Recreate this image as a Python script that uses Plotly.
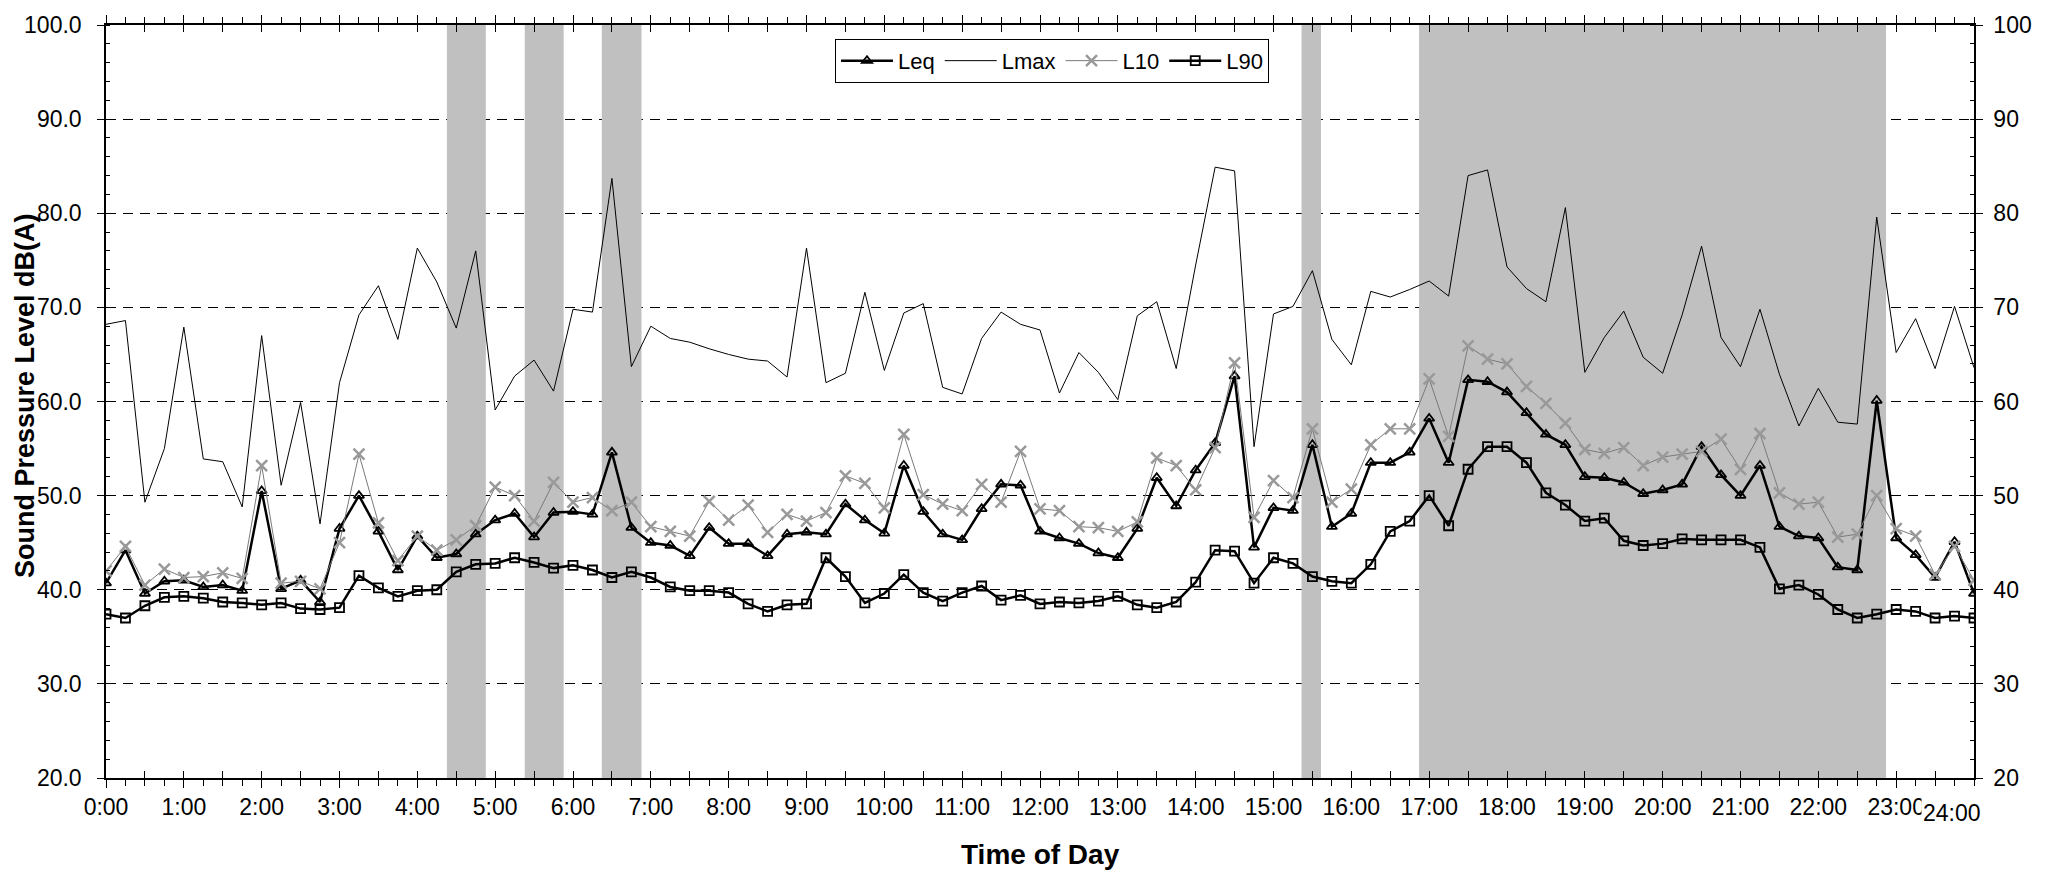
import plotly.graph_objects as go

# 15-minute categories, 0:00 .. 24:00 (97 points)
hours = [i * 0.25 for i in range(97)]
hour_labels = [f"{h}:00" for h in range(24)]

leq = [40.7, 44.2, 39.6, 40.9, 41.0, 40.3, 40.5, 39.9, 50.5, 40.1,
       41.0, 38.7, 46.5, 50.0, 46.2, 42.1, 45.7, 43.4, 43.8, 45.9,
       47.4, 48.1, 45.6, 48.2, 48.3, 48.0, 54.6, 46.6, 45.0, 44.7,
       43.6, 46.6, 44.9, 44.9, 43.6, 45.9, 46.1, 45.9, 49.1, 47.4,
       46.0, 53.2, 48.3, 45.9, 45.3, 48.6, 51.2, 51.1, 46.2, 45.5,
       44.9, 43.9, 43.4, 46.5, 51.9, 48.9, 52.7, 55.6, 62.7, 44.5,
       48.7, 48.4, 55.4, 46.7, 48.1, 53.5, 53.5, 54.6, 58.2, 53.5,
       62.3, 62.1, 61.0, 58.8, 56.5, 55.4, 52.0, 51.9, 51.4, 50.2,
       50.6, 51.2, 55.2, 52.2, 50.0, 53.2, 46.7, 45.7, 45.5, 42.4,
       42.1, 60.1, 45.5, 43.7, 41.3, 45.1, 39.6]

lmax = [68.2, 68.6, 49.3, 55.0, 67.9, 53.9, 53.6, 48.8, 67.0, 51.1,
        59.9, 47.0, 62.0, 69.2, 72.3, 66.6, 76.3, 72.7, 67.8, 76.0,
        59.1, 62.7, 64.4, 61.1, 69.8, 69.5, 83.7, 63.7, 68.0, 66.7,
        66.3, 65.6, 65.0, 64.5, 64.3, 62.6, 76.3, 62.0, 63.0, 71.6,
        63.3, 69.4, 70.4, 61.5, 60.8, 66.7, 69.5, 68.2, 67.6, 60.9,
        65.2, 63.1, 60.2, 69.1, 70.6, 63.5, 74.5, 84.9, 84.5, 55.2,
        69.3, 70.1, 73.9, 66.6, 63.9, 71.7, 71.1, 71.9, 72.8, 71.2,
        84.0, 84.6, 74.3, 72.0, 70.6, 80.6, 63.1, 66.8, 69.6, 64.7,
        63.0, 69.2, 76.5, 66.8, 63.7, 69.8, 62.9, 57.4, 61.4, 57.8,
        57.6, 79.6, 65.2, 68.8, 63.5, 70.1, 63.6]

l10 = [42.0, 44.6, 40.5, 42.2, 41.3, 41.4, 41.8, 41.2, 53.2, 40.7,
       40.9, 40.1, 45.0, 54.4, 47.1, 43.1, 45.7, 44.2, 45.3, 46.8,
       50.9, 50.0, 47.3, 51.4, 49.3, 49.8, 48.4, 49.3, 46.7, 46.2,
       45.7, 49.4, 47.4, 49.0, 46.1, 48.0, 47.3, 48.2, 52.1, 51.3,
       48.7, 56.5, 50.1, 49.1, 48.4, 51.2, 49.3, 54.7, 48.6, 48.4,
       46.7, 46.6, 46.2, 47.2, 54.0, 53.2, 50.6, 55.1, 64.1, 47.7,
       51.6, 49.8, 57.1, 49.3, 50.7, 55.4, 57.1, 57.1, 62.4, 56.3,
       65.9, 64.5, 64.0, 61.6, 59.8, 57.7, 54.9, 54.5, 55.1, 53.2,
       54.1, 54.4, 54.7, 56.0, 52.8, 56.6, 50.3, 49.1, 49.3, 45.6,
       45.9, 50.0, 46.5, 45.7, 41.6, 44.6, 41.0]

l90 = [37.4, 37.0, 38.3, 39.2, 39.3, 39.1, 38.7, 38.6, 38.4, 38.6,
       38.0, 37.9, 38.1, 41.5, 40.2, 39.3, 39.9, 40.0, 41.9, 42.7,
       42.8, 43.4, 42.9, 42.3, 42.6, 42.1, 41.3, 41.9, 41.3, 40.3,
       39.9, 39.9, 39.7, 38.5, 37.7, 38.4, 38.5, 43.4, 41.4, 38.6,
       39.6, 41.6, 39.7, 38.8, 39.7, 40.4, 38.9, 39.4, 38.5, 38.7,
       38.6, 38.8, 39.3, 38.4, 38.1, 38.7, 40.8, 44.2, 44.1, 40.7,
       43.4, 42.8, 41.4, 40.9, 40.7, 42.7, 46.2, 47.3, 50.0, 46.8,
       52.8, 55.2, 55.2, 53.5, 50.3, 49.0, 47.3, 47.6, 45.2, 44.7,
       44.9, 45.4, 45.3, 45.3, 45.3, 44.5, 40.1, 40.5, 39.5, 37.9,
       37.0, 37.4, 37.9, 37.7, 37.0, 37.2, 37.0]

# shaded periods (hours of day)
band_start = [4.38, 5.38, 6.37, 15.36, 16.87]
band_end = [4.88, 5.88, 6.88, 15.61, 22.87]

FONT = "Liberation Sans"

fig = go.Figure()

fig.add_trace(go.Scatter(
    x=hours, y=leq, name="Leq", mode="lines+markers",
    line=dict(color="black", width=2.5),
    marker=dict(symbol="triangle-up-open", size=9, color="black",
                line=dict(color="black", width=1.8))))
fig.add_trace(go.Scatter(
    x=hours, y=lmax, name="Lmax", mode="lines",
    line=dict(color="black", width=1)))
fig.add_trace(go.Scatter(
    x=hours, y=l10, name="L10", mode="lines+markers",
    line=dict(color="#7a7a7a", width=1),
    marker=dict(symbol="x-thin-open", size=11, color="#999999",
                line=dict(color="#999999", width=2.5))))
fig.add_trace(go.Scatter(
    x=hours, y=l90, name="L90", mode="lines+markers",
    line=dict(color="black", width=2.5),
    marker=dict(symbol="square-open", size=9, color="black",
                line=dict(color="black", width=1.8))))
# carrier for the secondary (right / inner-tick) axes
fig.add_trace(go.Scatter(
    x=hours, y=lmax, xaxis="x2", yaxis="y2", mode="lines", showlegend=False,
    hoverinfo="skip", line=dict(width=0, color="rgba(0,0,0,0)")))

for s, e in zip(band_start, band_end):
    fig.add_shape(type="rect", xref="x", yref="y", x0=s, x1=e, y0=20, y1=100,
                  fillcolor="#c0c0c0", line=dict(width=0), layer="between")

major_vals = [i * 0.5 for i in range(49)]
major_text = [hour_labels[int(v)] if (v == int(v) and v < 24) else "" for v in major_vals]

fig.update_layout(
    width=2049, height=874, autosize=False,
    margin=dict(l=106, r=75, t=17, b=96),
    paper_bgcolor="white", plot_bgcolor="white",
    font=dict(family=FONT, size=23, color="black"),
    showlegend=True,
    legend=dict(orientation="h", x=(835 - 106) / 1868, y=(778 - 31) / 761,
                xanchor="left", yanchor="top",
                bordercolor="black", borderwidth=1, bgcolor="white",
                font=dict(family=FONT, size=22, color="black"),
                itemwidth=52, tracegroupgap=0),
    xaxis=dict(range=[0, 24], showline=True, linecolor="black", linewidth=1.5,
               mirror="ticks", showgrid=False, zeroline=False,
               tickmode="array", tickvals=major_vals, ticktext=major_text,
               ticks="outside", ticklen=8, tickcolor="black", tickwidth=1,
               tickfont=dict(family=FONT, size=23, color="black"),
               minor=dict(tickvals=hours, ticks="outside", ticklen=6,
                          tickcolor="black", tickwidth=1)),
    xaxis2=dict(range=[0, 24], overlaying="x", anchor="y", side="bottom",
                showline=False, showgrid=False, zeroline=False, mirror="ticks",
                tickmode="array", tickvals=major_vals, showticklabels=False,
                ticks="inside", ticklen=7, tickcolor="black", tickwidth=1),
    yaxis=dict(range=[20, 100], showline=True, linecolor="black", linewidth=1.5,
               dtick=10, tick0=20, tickformat=".1f",
               showgrid=True, gridcolor="black", gridwidth=1, griddash="10px,7px",
               zeroline=False, ticks="outside", ticklen=7, tickcolor="black",
               ticklabelstandoff=11,
               tickfont=dict(family=FONT, size=23, color="black"),
               minor=dict(dtick=2, ticks="inside", ticklen=4, tickcolor="black")),
    yaxis2=dict(range=[20, 100], overlaying="y", anchor="x", side="right", showline=True,
                linecolor="black", linewidth=1.5, dtick=10, tick0=20, tickformat="d",
                showgrid=False, zeroline=False, ticks="outside", ticklen=7,
                tickcolor="black", ticklabelstandoff=6,
                tickfont=dict(family=FONT, size=23, color="black"),
                minor=dict(dtick=2, ticks="inside", ticklen=4, tickcolor="black")),
)

fig.add_annotation(text="<b>Time of Day</b>", xref="paper", yref="paper",
                   x=(1040 - 106) / 1868, y=(778 - 855) / 761,
                   xanchor="center", yanchor="middle", showarrow=False,
                   font=dict(family=FONT, size=28, color="black"))
fig.add_annotation(text="<b>Sound Pressure Level dB(A)</b>", xref="paper", yref="paper",
                   x=(25 - 106) / 1868, y=(778 - 392) / 761,
                   xanchor="center", yanchor="middle", showarrow=False,
                   textangle=-90, font=dict(family=FONT, size=27, color="black"))
fig.add_annotation(text="24:00", xref="x", yref="paper", x=(1952 - 106) / 77.83,
                   y=(778 - 813) / 761,
                   xanchor="center", yanchor="middle", showarrow=False,
                   bgcolor="white", borderpad=1,
                   font=dict(family=FONT, size=23, color="black"))

fig.write_html(
    "out.html",
    config={"displayModeBar": False},
    post_script="document.body.style.margin='0';document.body.style.overflow='hidden';",
)
